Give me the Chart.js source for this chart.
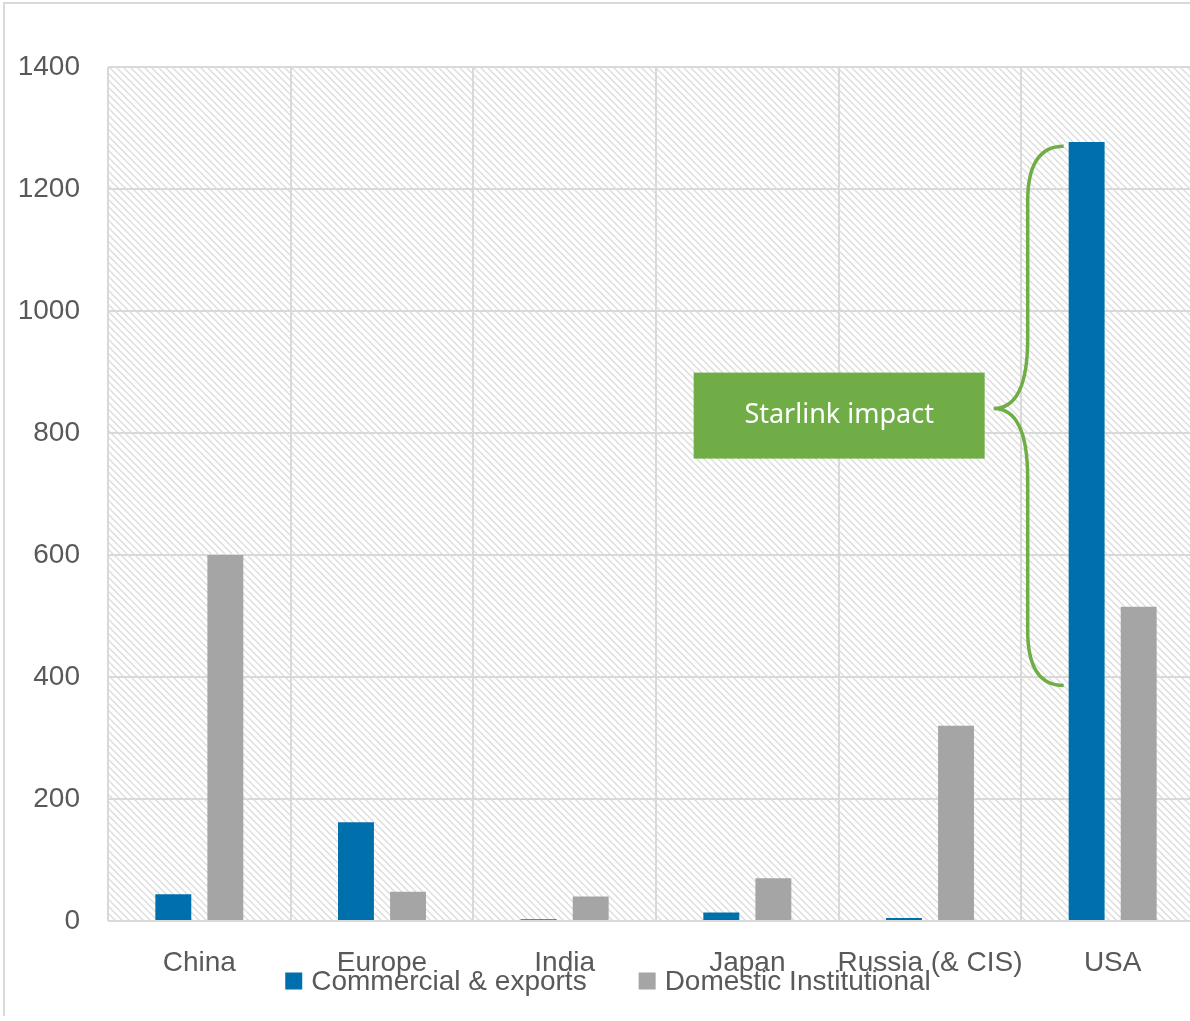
<!DOCTYPE html>
<html>
<head>
<meta charset="utf-8">
<title>Launch market by region</title>
<script src="https://cdn.jsdelivr.net/npm/chart.js@4/dist/chart.umd.min.js"></script>
<style>
  html, body { margin: 0; padding: 0; background: #fff; overflow: hidden; }
  #wrap { position: relative; width: 1210px; height: 1021px; }
  #frame {
    position: absolute; left: 3px; top: 2px; width: 1300px; height: 1012px;
    border-top: 2px solid #d9d9d9; border-left: 2px solid #d9d9d9;
    pointer-events: none;
  }
</style>
</head>
<body>
<div id="wrap">
  <canvas id="chart"></canvas>
  <div id="frame"></div>
</div>
<script>
// Data
const categories = ['China', 'Europe', 'India', 'Japan', 'Russia (& CIS)', 'USA'];
const commercial = [44, 162, 3, 14, 5, 1277];
const domestic = [600, 48, 40, 70, 320, 515];
const yTicks = [0, 200, 400, 600, 800, 1000, 1200, 1400];

// Annotation: brace next to the USA commercial bar
const braceLabel = 'Starlink impact';
const braceTopValue = 1270;
const braceBottomValue = 386;
const braceTipValue = 840;

const BLUE = '#0070ad';
const GREY = '#a5a5a5';
const GREEN = '#70ad47';
const TEXT = '#595959';
const GRID = '#d9d9d9';
const FONT = "'Liberation Sans', Arial, sans-serif";

// light diagonal hatch used behind the plot area
function makeHatch(ctx) {
  const s = 7;
  const tile = document.createElement('canvas');
  tile.width = s;
  tile.height = s;
  const t = tile.getContext('2d');
  t.strokeStyle = 'rgba(205,205,205,0.7)';
  t.lineWidth = 1.3;
  for (let k = -1; k <= 1; k++) {
    t.beginPath();
    t.moveTo(k * s - 1, -1);
    t.lineTo(k * s + s + 1, s + 1);
    t.stroke();
  }
  return ctx.createPattern(tile, 'repeat');
}

const hatchPlugin = {
  id: 'hatch',
  beforeDraw(chart) {
    const { ctx, chartArea: a } = chart;
    ctx.save();
    ctx.fillStyle = makeHatch(ctx);
    ctx.fillRect(a.left, a.top, a.right - a.left, a.bottom - a.top);
    ctx.restore();
  }
};

const bracePlugin = {
  id: 'brace',
  afterDatasetsDraw(chart) {
    const { ctx, scales } = chart;
    const bar = chart.getDatasetMeta(0).data[categories.indexOf('USA')];
    const barLeft = bar.x - bar.width / 2;
    const xEnd = barLeft - 5;
    const xs = xEnd - 36;
    const xt = xEnd - 70;
    const yTop = scales.y.getPixelForValue(braceTopValue);
    const yBot = scales.y.getPixelForValue(braceBottomValue);
    const yTip = scales.y.getPixelForValue(braceTipValue);

    ctx.save();
    ctx.strokeStyle = GREEN;
    ctx.lineWidth = 3.5;
    ctx.beginPath();
    ctx.moveTo(xEnd, yTop);
    ctx.quadraticCurveTo(xs, yTop, xs, yTop + 55);
    ctx.lineTo(xs, yTip - 70);
    ctx.quadraticCurveTo(xs, yTip, xt, yTip);
    ctx.quadraticCurveTo(xs, yTip, xs, yTip + 70);
    ctx.lineTo(xs, yBot - 55);
    ctx.quadraticCurveTo(xs, yBot, xEnd, yBot);
    ctx.stroke();

    // green label box
    const w = 291, h = 86;
    const bx = xt - 9 - w;
    const by = yTip + 7 - h / 2;
    ctx.fillStyle = GREEN;
    ctx.fillRect(bx, by, w, h);
    ctx.fillStyle = '#ffffff';
    ctx.font = "27px 'Noto Sans', 'Open Sans', sans-serif";
    ctx.textAlign = 'center';
    ctx.textBaseline = 'middle';
    ctx.fillText(braceLabel, bx + w / 2, by + h / 2);
    ctx.restore();
  }
};

// legend drawn over the bottom, overlapping the category labels like the original
const legendPlugin = {
  id: 'lowLegend',
  afterDraw(chart) {
    const { ctx } = chart;
    const box = 17, gapText = 9, gapItem = 52;
    ctx.save();
    ctx.font = '28px ' + FONT;
    const items = chart.data.datasets.map(ds => ({
      label: ds.label, color: ds.backgroundColor, w: ctx.measureText(ds.label).width
    }));
    const total = items.reduce((s, it) => s + box + gapText + it.w, 0) + gapItem * (items.length - 1);
    let x = 608 - total / 2;
    const yMid = 981;
    ctx.textBaseline = 'middle';
    ctx.textAlign = 'left';
    items.forEach(it => {
      ctx.fillStyle = it.color;
      ctx.fillRect(x, yMid - box / 2, box, box);
      ctx.fillStyle = TEXT;
      ctx.fillText(it.label, x + box + gapText, yMid + 1);
      x += box + gapText + it.w + gapItem;
    });
    ctx.restore();
  }
};

new Chart(document.getElementById('chart'), {
  type: 'bar',
  data: {
    labels: categories,
    datasets: [
      {
        label: 'Commercial & exports',
        data: commercial,
        backgroundColor: BLUE,
        categoryPercentage: 0.57,
        barPercentage: 0.69
      },
      {
        label: 'Domestic Institutional',
        data: domestic,
        backgroundColor: GREY,
        categoryPercentage: 0.57,
        barPercentage: 0.69
      }
    ]
  },
  options: {
    responsive: true,
    maintainAspectRatio: false,
    animation: false,
    layout: { padding: { top: 67, left: 0, right: 6, bottom: 0 } },
    plugins: {
      legend: { display: false },
      tooltip: { enabled: false }
    },
    scales: {
      x: {
        offset: true,
        grid: { display: true, offset: true, color: GRID, lineWidth: 2, drawTicks: false },
        border: { display: false },
        ticks: {
          color: TEXT, font: { family: FONT, size: 28 }, padding: 25,
          autoSkip: false, maxRotation: 0
        },
        afterFit(scale) { scale.height = 100; }
      },
      y: {
        min: 0,
        max: 1400,
        afterBuildTicks(scale) { scale.ticks = yTicks.map(v => ({ value: v })); },
        grid: { color: GRID, lineWidth: 2, drawTicks: false },
        border: { display: false },
        ticks: {
          color: TEXT, font: { family: FONT, size: 28 }, padding: 28,
          callback: v => String(v)
        },
        afterFit(scale) { scale.width = 108; }
      }
    }
  },
  plugins: [hatchPlugin, bracePlugin, legendPlugin]
});
</script>
</body>
</html>
